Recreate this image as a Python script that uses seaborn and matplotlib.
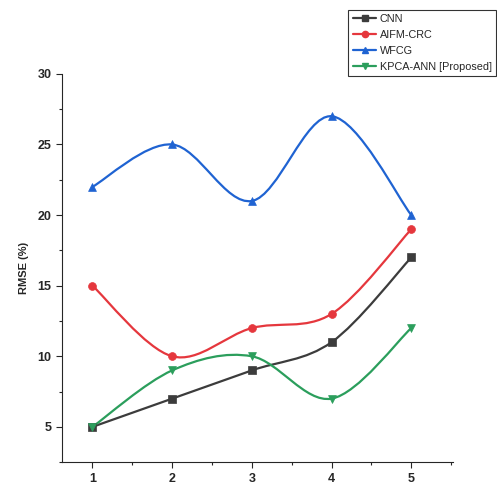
import matplotlib
matplotlib.use("Agg")
import matplotlib.pyplot as plt
from matplotlib.path import Path
from matplotlib.patches import PathPatch
from matplotlib.lines import Line2D
from matplotlib.ticker import MultipleLocator
import seaborn as sns

# data
x_vals = [1, 2, 3, 4, 5]
cnn = [5, 7, 9, 11, 17]
aifm_crc = [15, 10, 12, 13, 19]
wfcg = [22, 25, 21, 27, 20]
kpca_ann = [5, 9, 10, 7, 12]

series_names = ["CNN", "AIFM-CRC", "WFCG", "KPCA-ANN [Proposed]"]
series_vals = [cnn, aifm_crc, wfcg, kpca_ann]
colors = ["#3c3c3c", "#e5373d", "#1f63d2", "#2b9e5c"]
markers = ["s", "o", "^", "v"]


def smooth_path(xs, ys):
    '''Catmull-Rom curve through the points, drawn as cubic bezier segments.'''
    pts = list(zip(xs, ys))
    n = len(pts)
    verts = [pts[0]]
    codes = [Path.MOVETO]
    for i in range(n - 1):
        p0 = pts[max(i - 1, 0)]
        p1 = pts[i]
        p2 = pts[i + 1]
        p3 = pts[min(i + 2, n - 1)]
        c1 = (p1[0] + (p2[0] - p0[0]) / 6, p1[1] + (p2[1] - p0[1]) / 6)
        c2 = (p2[0] - (p3[0] - p1[0]) / 6, p2[1] - (p3[1] - p1[1]) / 6)
        verts += [c1, c2, p2]
        codes += [Path.CURVE4] * 3
    return Path(verts, codes)


sns.set_style("ticks")
plt.rcParams["font.family"] = ["Liberation Sans", "DejaVu Sans"]

fig = plt.figure(figsize=(4.97, 4.86), dpi=100)
ax = fig.add_axes([0.125, 0.049, 0.786, 0.799])

handles = []
for name, vals, col, mk in zip(series_names, series_vals, colors, markers):
    patch = PathPatch(smooth_path(x_vals, vals), facecolor="none", edgecolor=col, lw=1.6)
    ax.add_patch(patch)
    sns.scatterplot(x=x_vals, y=vals, ax=ax, color=col, marker=mk, s=32,
                    edgecolor=col, linewidth=0.5, zorder=3)
    handles.append(Line2D([], [], color=col, lw=1.6, marker=mk, markersize=4.5, label=name))

ax.set_xlim(0.62, 5.52)
ax.set_ylim(2.5, 30)
ax.xaxis.set_major_locator(MultipleLocator(1))
ax.xaxis.set_minor_locator(MultipleLocator(0.5))
ax.yaxis.set_major_locator(MultipleLocator(5))
ax.yaxis.set_minor_locator(MultipleLocator(2.5))
ax.set_yticks([5, 10, 15, 20, 25, 30])
ax.tick_params(which="major", length=4, width=0.8, labelsize=9, direction="out")
ax.tick_params(which="minor", length=2.5, width=0.8, direction="out")
for lab in ax.get_xticklabels() + ax.get_yticklabels():
    lab.set_fontweight("bold")
sns.despine(ax=ax)
ax.set_ylabel("RMSE (%)", fontsize=8, fontweight="bold", labelpad=6)
ax.set_xlabel("")

leg = fig.legend(handles=handles, loc="upper right", bbox_to_anchor=(0.998, 0.98),
                 frameon=True, fancybox=False, fontsize=7.8, handlelength=2.2,
                 handletextpad=0.3, borderpad=0.4, borderaxespad=0.0, labelspacing=0.55)
leg.get_frame().set_edgecolor("black")
leg.get_frame().set_linewidth(0.8)

fig.savefig("out.png", dpi=100)
